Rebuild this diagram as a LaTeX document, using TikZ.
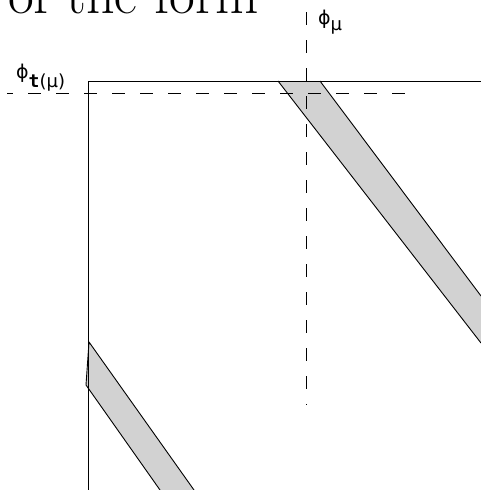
\documentclass[tikz,border=0pt]{standalone}
\usepackage{fontspec}
\newfontfamily\grk{DejaVu Sans}
\newfontfamily\grkmono{DejaVu Sans Mono}
\definecolor{bandgray}{RGB}{210,210,210}
\tikzset{
  solidline/.style={draw=black,line width=0.9pt},
  dashline/.style={draw=black,line width=0.9pt,dash pattern=on 13pt off 15pt},
  band/.style={fill=bandgray,draw=none},
  bandedge/.style={draw=black,line width=0.9pt,line join=round},
  lbl/.style={inner sep=0pt,anchor=base west,font=\grk\fontsize{19}{21}\selectfont}
}
\newcommand\subsz{\fontsize{18}{20}\selectfont}
\begin{document}
\begin{tikzpicture}[x=1pt,y=-1pt]
\useasboundingbox (0,0) rectangle (481,490);
% heading fragment
\node[anchor=base west,inner sep=0pt,font=\fontsize{56}{60}\selectfont] (head) at (8,13) {of the form};
% frame
\coordinate (tl) at (88,81);
\coordinate (tr) at (481,81);
\coordinate (bl) at (88,490);
% upper band
\coordinate (ua) at (278,81);
\coordinate (ub) at (320,81);
\coordinate (uc) at (481,296);
\coordinate (ud) at (481,343);
\fill[band] (ua) -- (ub) -- (uc) -- (ud) -- cycle;
\draw[bandedge] (ub) -- (uc);
\draw[bandedge] (ua) -- (ud);
% lower band
\coordinate (la) at (89,342);
\coordinate (lb) at (86,385);
\coordinate (lc) at (160,490);
\coordinate (ld) at (194,490);
\fill[band] (la) -- (ld) -- (lc) -- (lb) -- cycle;
\draw[bandedge] (ld) -- (la) -- (lb) -- (lc);
% frame lines
\draw[solidline] (bl) -- (tl) -- (tr);
% dashed guides
\coordinate (hd0) at (7,93);
\coordinate (hd1) at (405,93);
\coordinate (vd0) at (306,12);
\coordinate (vd1) at (306,405);
\draw[dashline,dash phase=7pt] (hd0) -- (hd1);
\draw[dashline] (vd0) -- (vd1);
% labels
\node[lbl] (phimu) at (318,24) {ϕ\raisebox{-6pt}{\subsz μ}};
\node[lbl] (phitmu) at (16,78) {ϕ\raisebox{-9pt}{\subsz{\grkmono\bfseries t}(μ)}};
\end{tikzpicture}
\end{document}
